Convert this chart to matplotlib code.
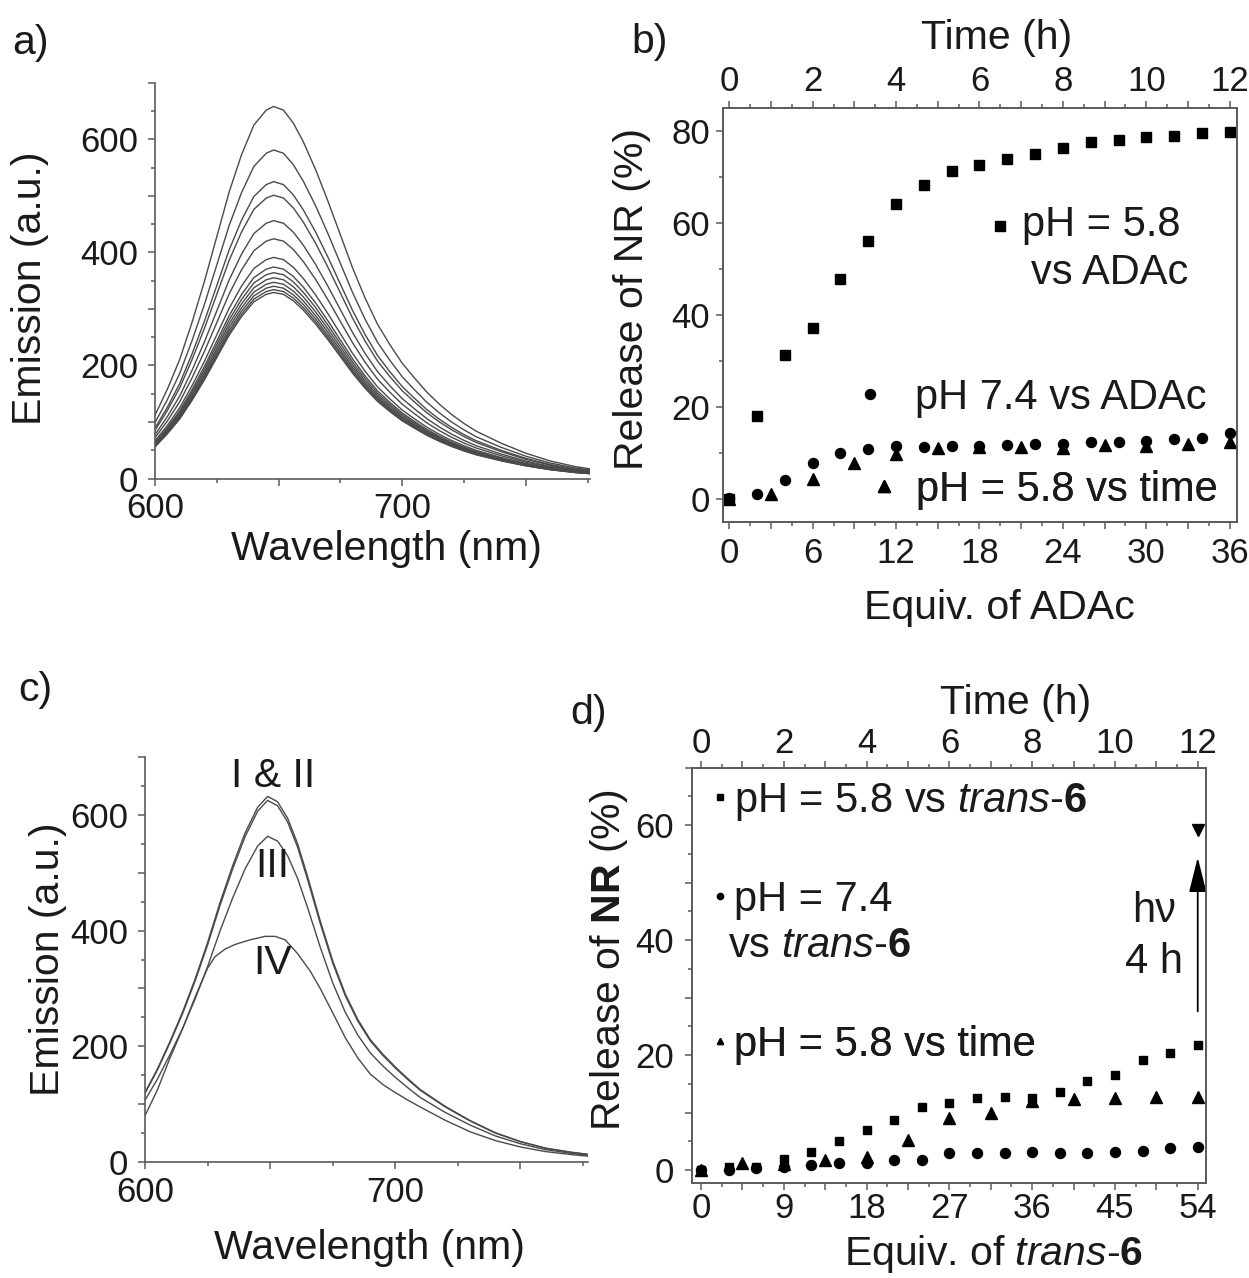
"""Four-panel figure: Nile Red emission spectra and release curves."""

import matplotlib

matplotlib.use("Agg")
import matplotlib.pyplot as plt
from matplotlib.lines import Line2D
from matplotlib.ticker import FuncFormatter, MultipleLocator

plt.rcParams["font.family"] = ["Liberation Sans", "DejaVu Sans"]
plt.rcParams["mathtext.fontset"] = "custom"
plt.rcParams["mathtext.rm"] = "Liberation Sans"
plt.rcParams["mathtext.it"] = "Liberation Sans:italic"
plt.rcParams["mathtext.bf"] = "Liberation Sans:bold"

# ---- panel a: emission spectra during ADAc titration -------------------
A_WAVELENGTH = [600, 605, 610, 615, 620, 625, 630, 635, 640, 645, 648, 652,
                656, 660, 665, 670, 675, 680, 685, 690, 695, 700, 705, 710,
                715, 720, 725, 730, 740, 750, 760, 770, 776]
A_PROFILE = [0.17, 0.24, 0.32, 0.42, 0.53, 0.65, 0.77, 0.87, 0.95, 0.99, 1.0,
             0.99, 0.955, 0.905, 0.83, 0.745, 0.655, 0.565, 0.485, 0.415,
             0.36, 0.31, 0.27, 0.232, 0.2, 0.172, 0.148, 0.127, 0.095, 0.068,
             0.047, 0.032, 0.026]
A_PEAKS = [658, 581, 525, 501, 456, 424, 391, 374, 364, 355, 347, 340, 334, 329]

# ---- panel b: release vs ADAc equivalents / time -----------------------
B_EQUIV = [0, 2, 4, 6, 8, 10, 12, 14, 16, 18, 20, 22, 24, 26, 28, 30, 32, 34, 36]
B_SQUARE = [0.1, 18.0, 31.3, 37.2, 47.9, 56.2, 64.2, 68.3, 71.4, 72.7, 74.0,
            75.0, 76.4, 77.7, 78.1, 78.6, 79.0, 79.5, 79.7]
B_CIRCLE = [0.2, 1.1, 4.2, 7.9, 10.0, 11.0, 11.5, 11.4, 11.5, 11.6, 11.8,
            12.0, 12.1, 12.4, 12.5, 12.6, 13.0, 13.4, 14.3]
B_TIME = [0, 1, 2, 3, 4, 5, 6, 7, 8, 9, 10, 11, 12]
B_TRIANGLE = [0.1, 1.2, 4.5, 7.9, 9.9, 11.1, 11.3, 11.3, 11.1, 11.8, 11.6, 12.1, 12.4]
B_EQUIV_PER_HOUR = 3.0

# ---- panel c: emission spectra I-IV ------------------------------------
C_WAVELENGTH = [600, 605, 610, 615, 620, 625, 630, 635, 640, 645, 649, 653,
                657, 661, 665, 670, 675, 680, 685, 690, 695, 700, 705, 710,
                720, 730, 740, 750, 760, 770, 777]
C_PROFILE = [0.19, 0.255, 0.33, 0.41, 0.5, 0.6, 0.71, 0.81, 0.9, 0.97, 1.0,
             0.985, 0.94, 0.87, 0.78, 0.66, 0.55, 0.46, 0.39, 0.335, 0.295,
             0.26, 0.228, 0.198, 0.152, 0.113, 0.08, 0.056, 0.038, 0.027, 0.021]
C_PEAKS = [632, 625, 563]  # I, II, III
C_IV_WAVELENGTH = [600, 605, 610, 615, 620, 625, 628, 632, 636, 642, 648, 652,
                   656, 661, 666, 670, 675, 680, 685, 690, 695, 700, 705, 710,
                   720, 730, 740, 750, 760, 770, 777]
C_IV = [80, 125, 180, 230, 285, 335, 355, 368, 376, 384, 390, 390, 384, 360,
        330, 300, 258, 215, 180, 152, 134, 120, 107, 95, 72, 52, 37, 26, 18, 13, 10]
C_LABELS = ["I & II", "III", "IV"]
C_LABEL_X = [651, 651, 651]
C_LABEL_Y = [668, 511, 344]

# ---- panel d: release vs trans-6 equivalents / time --------------------
D_EQUIV = [0, 3, 6, 9, 12, 15, 18, 21, 24, 27, 30, 33, 36, 39, 42, 45, 48, 51, 54]
D_SQUARE = [0.1, 0.6, 0.6, 2.0, 3.2, 5.0, 6.9, 8.7, 11.0, 11.7, 12.5, 12.75,
            12.6, 13.6, 15.5, 16.5, 19.2, 20.3, 21.7]
D_CIRCLE = [0.0, 0.05, 0.3, 0.6, 0.9, 1.2, 1.2, 1.7, 1.7, 2.9, 2.9, 2.9, 3.2,
            3.0, 3.0, 3.2, 3.3, 3.8, 4.0]
D_TIME = [0, 1, 2, 3, 4, 5, 6, 7, 8, 9, 10, 11, 12]
D_TRIANGLE = [0.0, 1.2, 1.0, 1.8, 2.2, 5.3, 9.0, 10.0, 12.0, 12.4, 12.6, 12.75, 12.8]
D_IRRADIATED_EQUIV = [54]
D_IRRADIATED_RELEASE = [59.2]
D_ARROW_EQUIV = 54
D_ARROW_FROM = 27.6
D_ARROW_TO = 54.4
D_EQUIV_PER_HOUR = 4.5

FIG_W, FIG_H = 1249, 1278
INK = "#1a1a1a"
SPINE = "#5a5a5a"
CURVE = "#4a4a4a"
TICK_SIZE = 25
LABEL_SIZE = 29.5
KEY_SIZE = 30


def frac_rect(left, top, right, bottom):
    """Pixel box of the reference image -> figure fraction rectangle."""
    return [left / FIG_W, 1 - bottom / FIG_H, (right - left) / FIG_W, (bottom - top) / FIG_H]


def every(step):
    def fmt(value, pos):
        value = round(value, 6) + 0.0
        if abs(value / step - round(value / step)) < 1e-6:
            return f"{value:g}"
        return ""
    return FuncFormatter(fmt)


def set_ticks(axis, major, minor, label_step):
    axis.set_major_locator(MultipleLocator(major))
    axis.set_minor_locator(MultipleLocator(minor))
    axis.set_major_formatter(every(label_step))


def style(ax, box):
    for side, spine in ax.spines.items():
        spine.set_color(SPINE)
        spine.set_linewidth(1.2)
        if not box and side in ("top", "right"):
            spine.set_visible(False)
    ax.tick_params(which="both", direction="out", color=SPINE, width=1.1,
                   labelsize=TICK_SIZE, labelcolor=INK)
    ax.tick_params(which="major", length=5)
    ax.tick_params(which="minor", length=3)
    ax.tick_params(axis="y", which="both", right=False)


def add_key(ax, marker, size, label, anchor, textpad, handlelength, handleheight=0.7):
    handle = Line2D([], [], ls="none", marker=marker, ms=size, color="black")
    key = ax.legend([handle], [label], loc="center left", bbox_to_anchor=anchor,
                    frameon=False, borderpad=0, borderaxespad=0, numpoints=1,
                    handlelength=handlelength, handleheight=handleheight,
                    handletextpad=textpad, fontsize=KEY_SIZE, labelcolor=INK)
    ax.add_artist(key)


fig = plt.figure(figsize=(FIG_W / 100, FIG_H / 100), dpi=100)

# ---------------- a ----------------
ax_a = fig.add_axes(frac_rect(155, 82.7, 590, 478.5))
for peak in A_PEAKS:
    ax_a.plot(A_WAVELENGTH, [peak * p for p in A_PROFILE], color=CURVE, lw=1.0)
ax_a.set_xlim(600, 776)
ax_a.set_ylim(0, 700)
style(ax_a, box=False)
set_ticks(ax_a.xaxis, 50, 25, 100)
set_ticks(ax_a.yaxis, 100, 50, 200)
ax_a.tick_params(axis="x", pad=5)
ax_a.tick_params(axis="y", pad=7)
ax_a.set_xlabel("Wavelength (nm)", fontsize=LABEL_SIZE, color=INK)
ax_a.set_ylabel("Emission (a.u.)", fontsize=LABEL_SIZE, color=INK)
ax_a.xaxis.set_label_coords(0.532, -0.13)
ax_a.yaxis.set_label_coords(-0.244, 0.481)

# ---------------- b ----------------
ax_b = fig.add_axes(frac_rect(722.7, 108.0, 1236.7, 521.7))
ax_b_top = ax_b.twiny()
ax_b.plot(B_EQUIV, B_SQUARE, "s", ms=6.5, color="black", ls="none")
ax_b.plot(B_EQUIV, B_CIRCLE, "o", ms=7.2, color="black", ls="none")
ax_b_top.plot(B_TIME, B_TRIANGLE, "^", ms=8, color="black", ls="none")
b_xlim = (-0.47, 36.5)
ax_b.set_xlim(*b_xlim)
ax_b_top.set_xlim(b_xlim[0] / B_EQUIV_PER_HOUR, b_xlim[1] / B_EQUIV_PER_HOUR)
ax_b.set_ylim(-4.87, 85.0)
style(ax_b, box=True)
style(ax_b_top, box=True)
set_ticks(ax_b.xaxis, 3, 1.5, 6)
set_ticks(ax_b_top.xaxis, 1, 0.5, 2)
set_ticks(ax_b.yaxis, 20, 10, 20)
ax_b.tick_params(axis="x", pad=6)
ax_b_top.tick_params(axis="x", pad=2)
ax_b.tick_params(axis="y", pad=4)
ax_b.set_xlabel("Equiv. of ADAc", fontsize=LABEL_SIZE, color=INK)
ax_b_top.set_xlabel("Time (h)", fontsize=LABEL_SIZE, color=INK)
ax_b.set_ylabel("Release of NR (%)", fontsize=LABEL_SIZE, color=INK)
ax_b.xaxis.set_label_coords(0.538, -0.163)
ax_b_top.xaxis.set_label_coords(0.532, 1.1426)
ax_b.yaxis.set_label_coords(-0.1395, 0.5376)
add_key(ax_b, "s", 6.5, "pH = 5.8", (0.5235, 0.716), 0.33, 0.4, handleheight=0.0)
ax_b.text(0.599, 0.602, "vs ADAc", transform=ax_b.transAxes, fontsize=KEY_SIZE,
          color=INK, ha="left", va="center")
add_key(ax_b, "o", 7.2, "pH 7.4 vs ADAc", (0.2712, 0.300), 0.88, 0.4)
add_key(ax_b, "^", 8, "pH = 5.8 vs time", (0.2975, 0.0776), 0.58, 0.4)

# ---------------- c ----------------
ax_c = fig.add_axes(frac_rect(145, 757, 588, 1162))
for peak in C_PEAKS:
    ax_c.plot(C_WAVELENGTH, [peak * p for p in C_PROFILE], color=CURVE, lw=1.0)
ax_c.plot(C_IV_WAVELENGTH, C_IV, color=CURVE, lw=1.0)
for text, x, y in zip(C_LABELS, C_LABEL_X, C_LABEL_Y):
    ax_c.text(x, y, text, fontsize=LABEL_SIZE, color=INK, ha="center", va="center")
ax_c.set_xlim(600, 777)
ax_c.set_ylim(0, 700)
style(ax_c, box=False)
set_ticks(ax_c.xaxis, 50, 25, 100)
set_ticks(ax_c.yaxis, 100, 50, 200)
ax_c.tick_params(axis="x", pad=5)
ax_c.tick_params(axis="y", pad=7)
ax_c.set_xlabel("Wavelength (nm)", fontsize=LABEL_SIZE, color=INK)
ax_c.set_ylabel("Emission (a.u.)", fontsize=LABEL_SIZE, color=INK)
ax_c.xaxis.set_label_coords(0.507, -0.165)
ax_c.yaxis.set_label_coords(-0.176, 0.5)

# ---------------- d ----------------
ax_d = fig.add_axes(frac_rect(692.3, 767.7, 1206.0, 1183.3))
ax_d_top = ax_d.twiny()
ax_d.plot(D_EQUIV, D_SQUARE, "s", ms=6.0, color="black", ls="none")
ax_d.plot(D_EQUIV, D_CIRCLE, "o", ms=7.2, color="black", ls="none")
ax_d.plot(D_IRRADIATED_EQUIV, D_IRRADIATED_RELEASE, "v", ms=8, color="black", ls="none")
ax_d_top.plot(D_TIME, D_TRIANGLE, "^", ms=8, color="black", ls="none")
d_xlim = (-0.95, 54.9)
ax_d.set_xlim(*d_xlim)
ax_d_top.set_xlim(d_xlim[0] / D_EQUIV_PER_HOUR, d_xlim[1] / D_EQUIV_PER_HOUR)
ax_d.set_ylim(-2.3, 70.0)
style(ax_d, box=True)
style(ax_d_top, box=True)
set_ticks(ax_d.xaxis, 4.5, 2.25, 9)
set_ticks(ax_d_top.xaxis, 1, 0.5, 2)
set_ticks(ax_d.yaxis, 10, 5, 20)
ax_d.tick_params(axis="x", pad=1.5)
ax_d_top.tick_params(axis="x", pad=0.5)
ax_d.tick_params(axis="y", pad=8)
ax_d.annotate("", xy=(D_ARROW_EQUIV, D_ARROW_TO), xytext=(D_ARROW_EQUIV, D_ARROW_FROM),
              arrowprops=dict(arrowstyle="-|>,head_length=1.08,head_width=0.27",
                              mutation_scale=20, lw=1.3, color="black",
                              shrinkA=0, shrinkB=0))
ax_d.text(49.3, 45.1, "h\u03bd", fontsize=KEY_SIZE, color=INK, ha="center", va="center")
ax_d.text(49.3, 36.2, "4 h", fontsize=KEY_SIZE, color=INK, ha="center", va="center")
ax_d.set_xlabel(r"Equiv. of $\mathit{trans}$-$\mathbf{6}$", fontsize=LABEL_SIZE, color=INK)
ax_d_top.set_xlabel("Time (h)", fontsize=LABEL_SIZE, color=INK)
ax_d.set_ylabel(r"Release of $\mathbf{NR}$ (%)", fontsize=LABEL_SIZE, color=INK)
ax_d.xaxis.set_label_coords(0.5866, -0.12)
ax_d_top.xaxis.set_label_coords(0.6296, 1.129)
ax_d.yaxis.set_label_coords(-0.121, 0.537)
add_key(ax_d, "s", 4.5, r"pH = 5.8 vs $\mathit{trans}$-$\mathbf{6}$", (0.0457, 0.9175), 0.23, 0.2)
add_key(ax_d, "o", 4.5, "pH = 7.4", (0.0457, 0.6817), 0.23, 0.2)
ax_d.text(0.0695, 0.571, r"vs $\mathit{trans}$-$\mathbf{6}$", transform=ax_d.transAxes,
          fontsize=KEY_SIZE, color=INK, ha="left", va="center")
add_key(ax_d, "^", 5.0, "pH = 5.8 vs time", (0.0457, 0.333), 0.23, 0.2)

# ---------------- panel letters ----------------
for letter, x, y in [("a)", 30.6, 43), ("b)", 649.5, 42), ("c)", 35, 690), ("d)", 588, 713)]:
    fig.text(x / FIG_W, 1 - y / FIG_H, letter, fontsize=LABEL_SIZE, color=INK,
             ha="center", va="center")

fig.savefig("out.png", dpi=100)
